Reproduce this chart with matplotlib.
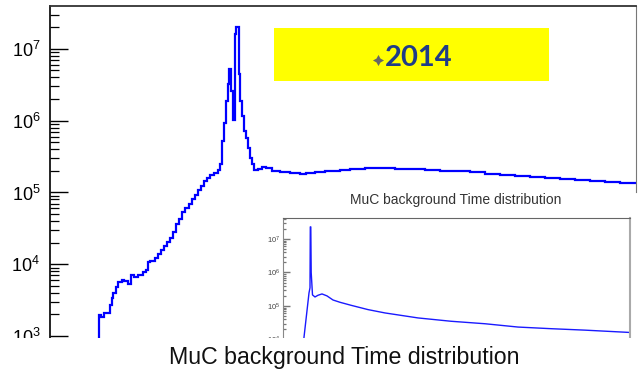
import matplotlib
matplotlib.use("Agg")
import matplotlib.pyplot as plt
from matplotlib.lines import Line2D
from matplotlib.patches import Rectangle
from matplotlib.ticker import LogLocator, LogFormatterSciNotation, NullLocator, NullFormatter

plt.rcParams["font.family"] = ["Liberation Sans Narrow", "Liberation Sans", "DejaVu Sans"]

# main histogram: bin edges (ns) and hits per bin; the first bin is empty
time_edges = [0, 49, 51, 54, 60, 62, 63, 66, 68, 72, 74, 78, 81, 84, 88, 93, 96, 98, 100,
              105, 108, 111, 114, 117, 120, 123, 126, 129, 132, 135, 139, 142, 145, 148,
              151, 154, 157, 160, 164, 168, 170, 172, 174, 176, 177.5, 179, 181, 182.5,
              185, 186, 188.5, 190, 192, 194, 196, 198, 200, 202, 204, 208, 212, 216,
              222, 230, 240, 250, 256, 265, 275, 290, 300, 315, 330, 345, 360, 375, 390,
              405, 420, 435, 450, 465, 480, 495, 510, 525, 540, 555, 570, 586]
counts = [1, 1960, 1840, 2090, 2700, 3380, 3950, 4790, 5620, 6000, 5810, 5280, 7030, 6600,
          7030, 7740, 8250, 10660, 11000, 12100, 13770, 15600, 17780, 20200, 22970,
          27830, 35940, 42170, 52740, 59950, 68130, 80000, 90850, 106600, 125000,
          146800, 161600, 177800, 189700, 208500, 252800, 527000, 938000, 1.9e6,
          3.26e6, 5.27e6, 2.61e6, 1.03e6, 1.61e7, 2.02e7, 4.5e6, 1.9e6, 1.17e6,
          726000, 581000, 422000, 306000, 253000, 208500, 215000, 230000, 222000,
          202000, 190000, 184000, 178000, 184000, 190000, 196000, 208500, 215000,
          222000, 222000, 215000, 211000, 208500, 202000, 196000, 190000, 181000,
          175000, 169000, 164000, 159000, 154000, 149000, 144000, 139500, 135000]

# inset: full time range overview
inset_time = [17.5, 21, 26, 27, 27.3, 27.8, 28.2, 29.5, 32, 35, 39, 44, 50, 57, 68, 85,
              102, 135, 168, 202, 235, 268, 302, 347]
inset_counts = [1.0e3, 1.17e4, 2.45e5, 3.5e5, 2.3e7, 2.3e7, 1.0e6, 2.14e5, 1.86e5,
                2.09e5, 2.29e5, 2.0e5, 1.51e5, 1.29e5, 1.05e5, 7.8e4, 6.2e4, 4.4e4,
                3.5e4, 2.95e4, 2.35e4, 2.1e4, 1.9e4, 1.62e4]

title = "MuC background Time distribution"
year_label = "2014"

W, H = 638, 374
fig = plt.figure(figsize=(W / 100, H / 100), dpi=100)


def box(x0, y0, x1, y1):
    """pixel box (top-left origin) -> figure rect"""
    return [x0 / W, 1 - y1 / H, (x1 - x0) / W, (y1 - y0) / H]


def root_style(ax, major_len, minor_len, color, labelsize, pad):
    ax.set_yscale("log")
    ax.yaxis.set_major_locator(LogLocator(base=10))
    ax.yaxis.set_major_formatter(LogFormatterSciNotation())
    ax.yaxis.set_minor_locator(LogLocator(base=10, subs=range(2, 10)))
    ax.yaxis.set_minor_formatter(NullFormatter())
    ax.xaxis.set_major_locator(NullLocator())
    ax.xaxis.set_minor_locator(NullLocator())
    ax.tick_params(axis="y", which="major", direction="in", length=major_len,
                   width=1.0, color=color, labelsize=labelsize, pad=pad)
    ax.tick_params(axis="y", which="minor", direction="in", length=minor_len,
                   width=0.9, color=color)
    ax.spines["bottom"].set_visible(False)


ax = fig.add_axes(box(50, 6, 636, 374))
ax.stairs(counts, time_edges, baseline=None, color="#0000ff", lw=1.6)
ax.set_xlim(0, 586)
root_style(ax, 13, 6.5, "black", 13, 7)
ax.set_ylim(10 ** 2.472, 10 ** 7.597)
ax.spines["left"].set_color("black")
ax.spines["left"].set_linewidth(1.2)
ax.spines["top"].set_color("#333333")
ax.spines["top"].set_linewidth(1.3)
ax.spines["right"].set_color("#777777")
ax.spines["right"].set_bounds(1e5, 10 ** 7.597)

ins = fig.add_axes(box(283, 218, 630, 371.3))
ins.set_zorder(1)
ins.plot(inset_time, inset_counts, color="#1a1aff", lw=1.0)
ins.set_xlim(0, 347)
root_style(ins, 5, 2.5, "#777777", 5.5, 2)
ins.set_ylim(10 ** 3.05, 10 ** 7.627)
ins.tick_params(axis="y", labelcolor="#444444")
ins.spines["left"].set_color("#888888")
ins.spines["top"].set_color("#666666")
ins.spines["right"].set_color("#aaaaaa")
ins.spines["right"].set_linewidth(1.5)

# yellow year badge
fig.add_artist(Rectangle(box(274, 28, 549, 81)[:2], 275 / W, 53 / H,
                         transform=fig.transFigure, facecolor="#ffff00",
                         edgecolor="none", zorder=2))
fig.add_artist(Line2D([378 / W], [1 - 60 / H], marker=(4, 1, 0), ms=8, mew=0,
                      color="#666666", transform=fig.transFigure, zorder=3))
fig.text(418.5 / W, 1 - 66 / H, year_label, ha="center", va="baseline",
         fontsize=21, fontweight="bold", family="Lato", color="#1f3c88", zorder=3)

# blank strip under the plots, with the caption
fig.add_artist(Rectangle((0, 0), 1, (H - 338) / H, transform=fig.transFigure,
                         facecolor="white", edgecolor="none", zorder=5))
fig.text(344 / W, 1 - 364 / H, title, ha="center", va="baseline", fontsize=16.7,
         family="Liberation Sans", color="#111111", zorder=6)
fig.text(456 / W, 1 - 204.3 / H, title, ha="center", va="baseline", fontsize=10,
         family="Liberation Sans", color="#333333", zorder=6)

fig.savefig("out.png", dpi=100)
